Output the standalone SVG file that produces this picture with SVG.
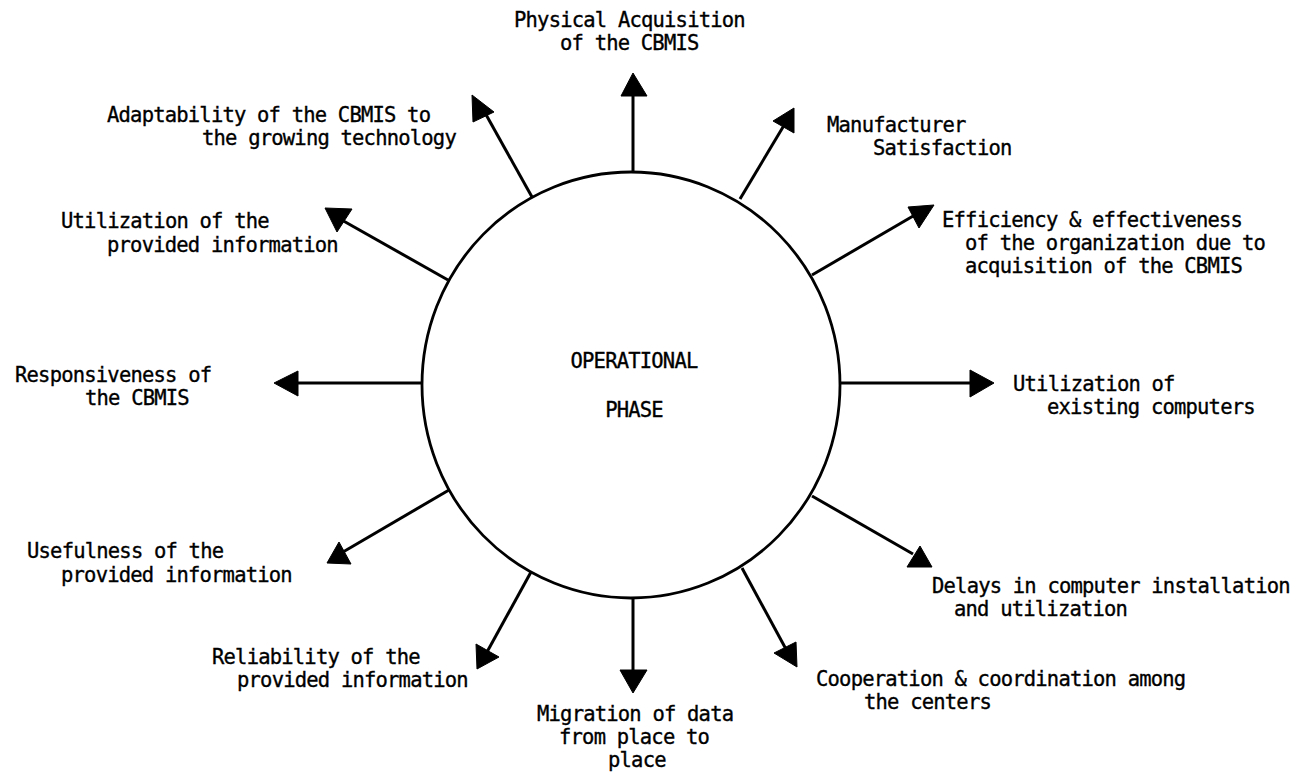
<svg xmlns="http://www.w3.org/2000/svg" width="1299" height="776" viewBox="0 0 1299 776">
<style>
text{font-family:"DejaVu Sans Mono","Liberation Mono",monospace;font-size:20.5px;letter-spacing:-0.8px;fill:#000;stroke:#000;stroke-width:0.35}
.ln{stroke:#000;stroke-width:3;fill:none;stroke-linecap:butt}
.ah{fill:#000;stroke:#000;stroke-width:1;stroke-linejoin:round}
</style>
<rect width="1299" height="776" fill="#fff"/>
<g id="center">
<ellipse cx="631" cy="385" rx="209" ry="213" fill="none" stroke="#000" stroke-width="2.8"/>
<text x="634" y="368" text-anchor="middle">OPERATIONAL</text>
<text x="634" y="417" text-anchor="middle">PHASE</text>
</g>
<g id="connectors">
<line class="ln" x1="633" y1="172" x2="633" y2="95"/>
<polygon class="ah" points="633,73 621,96 647,96"/>
<line class="ln" x1="532" y1="197" x2="484" y2="111"/>
<polygon class="ah" points="472,95 494,112 473,122"/>
<line class="ln" x1="740" y1="199" x2="786" y2="122"/>
<polygon class="ah" points="773,121 794,108 794,133"/>
<line class="ln" x1="448" y1="280" x2="340" y2="219"/>
<polygon class="ah" points="325,208 352,209 337,232"/>
<line class="ln" x1="812" y1="275" x2="920" y2="212"/>
<polygon class="ah" points="908,207 934,205 919,228"/>
<line class="ln" x1="422" y1="383" x2="297" y2="383"/>
<polygon class="ah" points="274,383 298,371 298,396"/>
<line class="ln" x1="840" y1="383" x2="971" y2="383"/>
<polygon class="ah" points="970,370 970,397 994,383"/>
<line class="ln" x1="449" y1="490" x2="343" y2="552"/>
<polygon class="ah" points="327,563 339,542 351,564"/>
<line class="ln" x1="812" y1="496" x2="913" y2="554"/>
<polygon class="ah" points="907,567 920,546 932,567"/>
<line class="ln" x1="531" y1="572" x2="487" y2="652"/>
<polygon class="ah" points="476,644 499,657 477,669"/>
<line class="ln" x1="742" y1="568" x2="787" y2="651"/>
<polygon class="ah" points="774,653 796,642 797,667"/>
<line class="ln" x1="633" y1="598" x2="633" y2="671"/>
<polygon class="ah" points="620,670 647,670 633,693"/>
</g>
<g id="n-physical">
<text x="514" y="27">Physical Acquisition</text>
<text x="560" y="50">of the CBMIS</text>
</g>
<g id="n-adaptability">
<text x="107" y="122">Adaptability of the CBMIS to</text>
<text x="202" y="145">the growing technology</text>
</g>
<g id="n-manufacturer">
<text x="827" y="132">Manufacturer</text>
<text x="873" y="155">Satisfaction</text>
</g>
<g id="n-utilization-info">
<text x="61" y="228">Utilization of the</text>
<text x="107" y="252">provided information</text>
</g>
<g id="n-efficiency">
<text x="942" y="227">Efficiency &amp; effectiveness</text>
<text x="965" y="250">of the organization due to</text>
<text x="965" y="273">acquisition of the CBMIS</text>
</g>
<g id="n-responsiveness">
<text x="15" y="382">Responsiveness of</text>
<text x="85" y="405">the CBMIS</text>
</g>
<g id="n-utilization-computers">
<text x="1013" y="391">Utilization of</text>
<text x="1047" y="414">existing computers</text>
</g>
<g id="n-usefulness">
<text x="27" y="558">Usefulness of the</text>
<text x="61" y="582">provided information</text>
</g>
<g id="n-delays">
<text x="932" y="593">Delays in computer installation</text>
<text x="954" y="616">and utilization</text>
</g>
<g id="n-reliability">
<text x="212" y="664">Reliability of the</text>
<text x="237" y="687">provided information</text>
</g>
<g id="n-cooperation">
<text x="816" y="686">Cooperation &amp; coordination among</text>
<text x="864" y="709">the centers</text>
</g>
<g id="n-migration">
<text x="537" y="721">Migration of data</text>
<text x="559" y="744">from place to</text>
<text x="608" y="767">place</text>
</g>
</svg>
